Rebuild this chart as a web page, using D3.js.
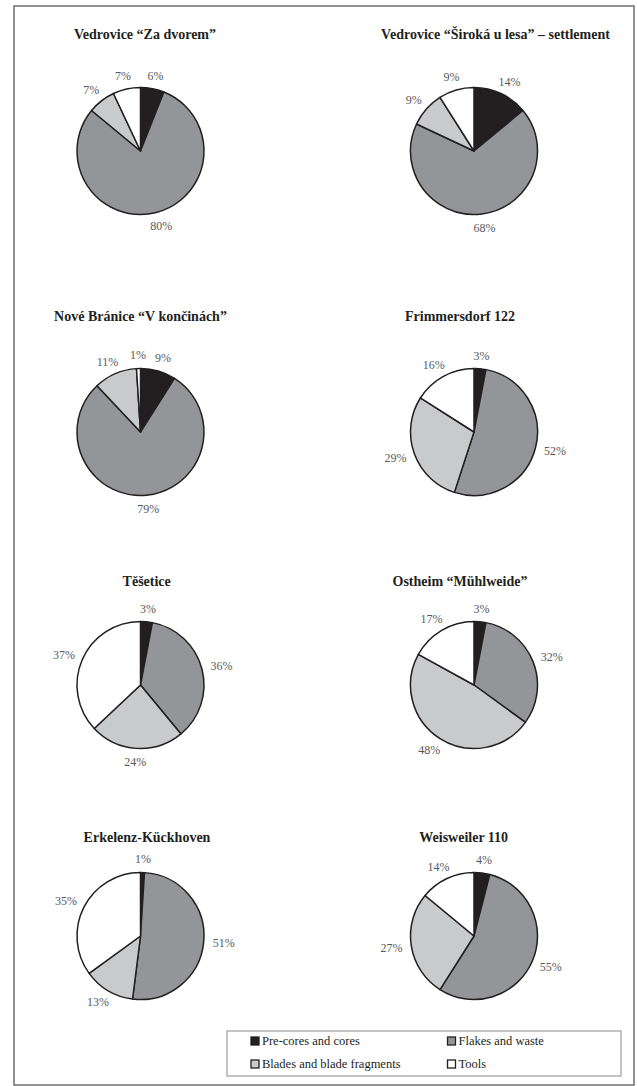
<!DOCTYPE html>
<html>
<head>
<meta charset="utf-8">
<script src="https://cdn.jsdelivr.net/npm/d3@7"></script>
<style>
  html, body { margin: 0; padding: 0; background: #ffffff; }
  svg { display: block; }
</style>
</head>
<body>
<svg id="chart" width="637" height="1086"></svg>
<script>
// ---- data ----
const categories = ["Pre-cores and cores", "Flakes and waste", "Blades and blade fragments", "Tools"];
const sites = [
  "Vedrovice \u201cZa dvorem\u201d",
  "Vedrovice \u201c\u0160irok\u00e1 u lesa\u201d \u2013  settlement",
  "Nov\u00e9 Br\u00e1nice \u201cV kon\u010din\u00e1ch\u201d",
  "Frimmersdorf 122",
  "T\u011b\u0161etice",
  "Ostheim \u201cM\u00fchlweide\u201d",
  "Erkelenz-K\u00fcckhoven",
  "Weisweiler 110"
];
const coresValues  = [6, 14, 9, 3, 3, 3, 1, 4];
const flakesValues = [80, 68, 79, 52, 36, 32, 51, 55];
const bladesValues = [7, 9, 11, 29, 24, 48, 13, 27];
const toolsValues  = [7, 9, 1, 16, 37, 17, 35, 14];

// ---- layout ----
const colX = [140.5, 474];
const rowY = [151, 432, 685, 936];
const titleY = [39, 321, 586, 842];
const titleX = [145, 495.5, 140.5, 460, 146.7, 460, 147, 463.7];
const radius = 63.5;
const colors = ["#231f20", "#939598", "#c9cacc", "#ffffff"];
const ink = "#231f20";

const svg = d3.select("#chart");

// frame
svg.append("rect")
  .attr("x", 14).attr("y", 6).attr("width", 620).attr("height", 1079)
  .attr("fill", "none").attr("stroke", "#6d6e70").attr("stroke-width", 1.5);

const color = d3.scaleOrdinal().domain(categories).range(colors);
const pie = d3.pie().sort(null).value(d => d.value);
const arc = d3.arc().innerRadius(0).outerRadius(radius);

sites.forEach((site, i) => {
  const cx = colX[i % 2], cy = rowY[Math.floor(i / 2)];
  const vals = [coresValues[i], flakesValues[i], bladesValues[i], toolsValues[i]];
  const data = categories.map((c, k) => ({ cat: c, value: vals[k] }));
  const arcs = pie(data);

  svg.append("text")
    .attr("x", titleX[i]).attr("y", titleY[Math.floor(i / 2)])
    .attr("text-anchor", "middle")
    .attr("font-family", "'Liberation Serif', 'Times New Roman', serif")
    .attr("font-weight", "bold").attr("font-size", 14)
    .attr("fill", ink)
    .text(site);

  const g = svg.append("g").attr("transform", `translate(${cx},${cy})`);
  g.selectAll("path").data(arcs).enter().append("path")
    .attr("d", arc)
    .attr("fill", d => color(d.data.cat))
    .attr("stroke", ink).attr("stroke-width", 1.5)
    .attr("stroke-linejoin", "round");

  const labels = g.selectAll("text.lbl").data(arcs).enter().append("text")
    .attr("class", "lbl")
    .attr("font-family", "'Liberation Serif', 'Times New Roman', serif")
    .attr("font-size", 12)
    .attr("fill", "#58595b")
    .attr("text-anchor", "middle")
    .attr("dy", "0.35em")
    .text(d => d.data.value + "%");

  labels.each(function(d) {
    const w = this.getComputedTextLength();
    const h = 9;
    const a = (d.startAngle + d.endAngle) / 2;
    const s = Math.sin(a), c = -Math.cos(a);
    const R = radius + 9;
    const x = R * s + (w / 2) * s;
    const y = R * c + (h / 2) * c;
    d3.select(this).attr("x", x).attr("y", y);
  });
});

// legend
const legend = svg.append("g");
legend.append("rect")
  .attr("x", 227).attr("y", 1031).attr("width", 394).attr("height", 45)
  .attr("fill", "none").attr("stroke", "#8a8a8a").attr("stroke-width", 1);
const legX = [251, 447.5];
const legY = [1041, 1064];
categories.forEach((c, k) => {
  const x = legX[k % 2], y = legY[Math.floor(k / 2)];
  legend.append("rect")
    .attr("x", x).attr("y", y - 4).attr("width", 8).attr("height", 8)
    .attr("fill", color(c)).attr("stroke", ink).attr("stroke-width", 1.3);
  legend.append("text")
    .attr("x", x + 11).attr("y", y + 4)
    .attr("font-family", "'Liberation Serif', 'Times New Roman', serif")
    .attr("font-size", 12.5)
    .attr("fill", ink)
    .text(c);
});
</script>
</body>
</html>
